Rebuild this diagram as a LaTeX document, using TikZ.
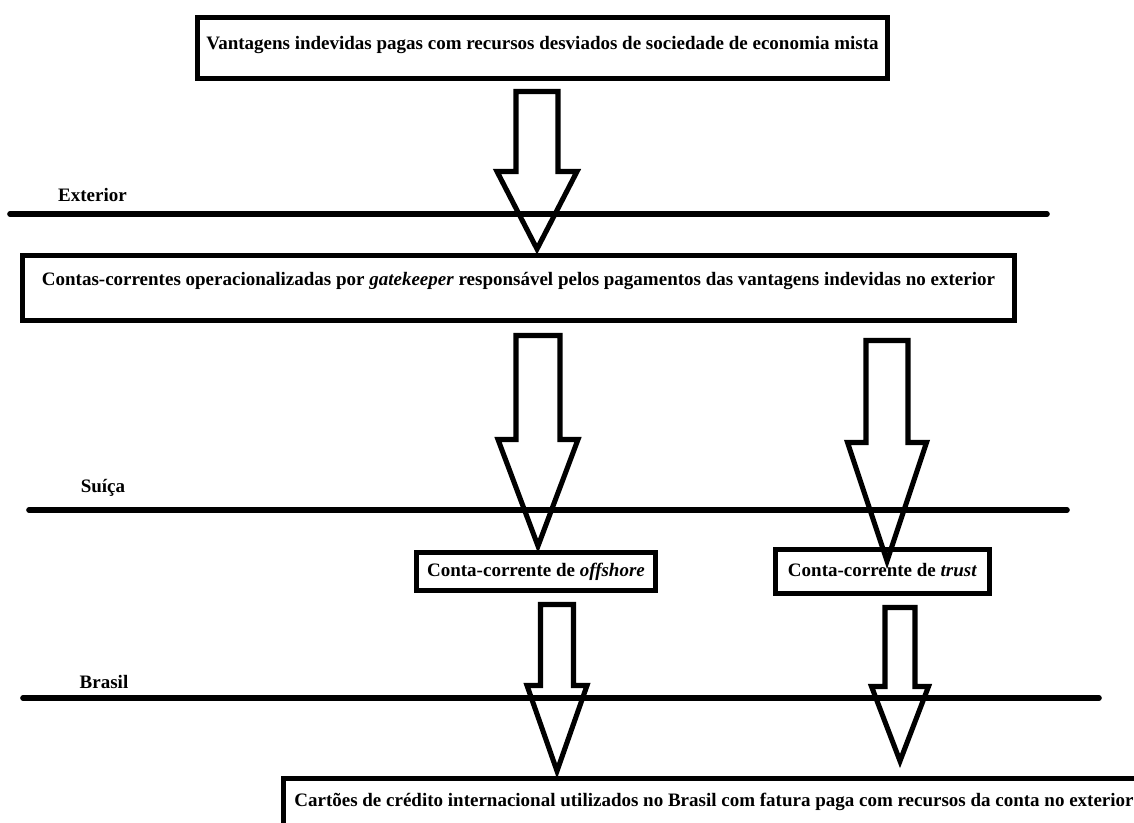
\documentclass[tikz,border=0pt]{standalone}
\usepackage{fontspec}
\setmainfont{Liberation Serif}
\usetikzlibrary{calc}

\tikzset{
  box/.style={draw, line width=3.8pt, inner sep=0pt, text height=9pt, text depth=2pt},
  border/.style={line width=4.2pt, line cap=round},
  blockarrow/.style={draw, line width=3.8pt},
}

\begin{document}
\begin{tikzpicture}[x=0.75pt, y=-0.75pt, font=\bfseries\fontsize{14.25}{16}\selectfont]
        \useasboundingbox (0,0) rectangle (1134,822);
        \clip (0,0) rectangle (1134,822);

        % box sizes in pt, 1px = 0.75pt
        \node[box, minimum width=517.5pt, minimum height=45.75pt, text depth=7pt] at (542.5,48) (origem) {Vantagens indevidas pagas com recursos desviados de sociedade de economia mista};
        \node[box, minimum width=744pt, minimum height=48.75pt, text depth=13.5pt] at (518.5,288) (gatekeeper) {Contas-correntes operacionalizadas por \textit{gatekeeper} responsável pelos pagamentos das vantagens indevidas no exterior};
        \node[box, minimum width=179.25pt, minimum height=28.5pt] at (536,571.5) (offshore) {Conta-corrente de \textit{offshore}};
        \node[box, minimum width=160.5pt, minimum height=33pt] at (882.5,571.5) (trust) {Conta-corrente de \textit{trust}};
        \node[box, anchor=north west, inner xsep=8.5pt, inner ysep=11pt, text height=10pt, text depth=40pt] at (280.5,775.5) (cartoes) {Cartões de crédito internacional utilizados no Brasil com fatura paga com recursos da conta no exterior};

        \foreach \nm/\txt/\ly/\yl/\xa/\xb/\xl in {ext/Exterior/214/195/10/1047/92.5, sui/Suíça/510/488/29/1067/103, bra/Brasil/698/682/23/1099/104}{
          \node (\nm) at (\xl,\yl) {\txt};
          \coordinate (\nm w) at (\xa,\ly);
          \coordinate (\nm e) at (\xb,\ly);
          \draw[border] (\nm w) -- (\nm e);
        }

        \foreach \i/\xs/\ys/\xt/\yt/\w/\h/\l in {1/537/91.5/537/249/21/40/77.5, 2/538/335.5/538/546/22/40/106.5, 3/887/340.5/887/561/21/39.5/118.5, 4/557/604.5/557/771/16.5/30/85.5, 5/900/607.5/900/761/15/28.5/74.5}{
          \coordinate (s\i) at (\xs,\ys);
          \coordinate (t\i) at (\xt,\yt);
          \draw[blockarrow] ($(s\i)+(-\w,0)$) -- ($(s\i)+(\w,0)$) -- ($(t\i)+(\w,-\l)$) -- ($(t\i)+(\h,-\l)$)
            -- (t\i) -- ($(t\i)+(-\h,-\l)$) -- ($(t\i)+(-\w,-\l)$) -- cycle;
        }
\end{tikzpicture}
\end{document}
